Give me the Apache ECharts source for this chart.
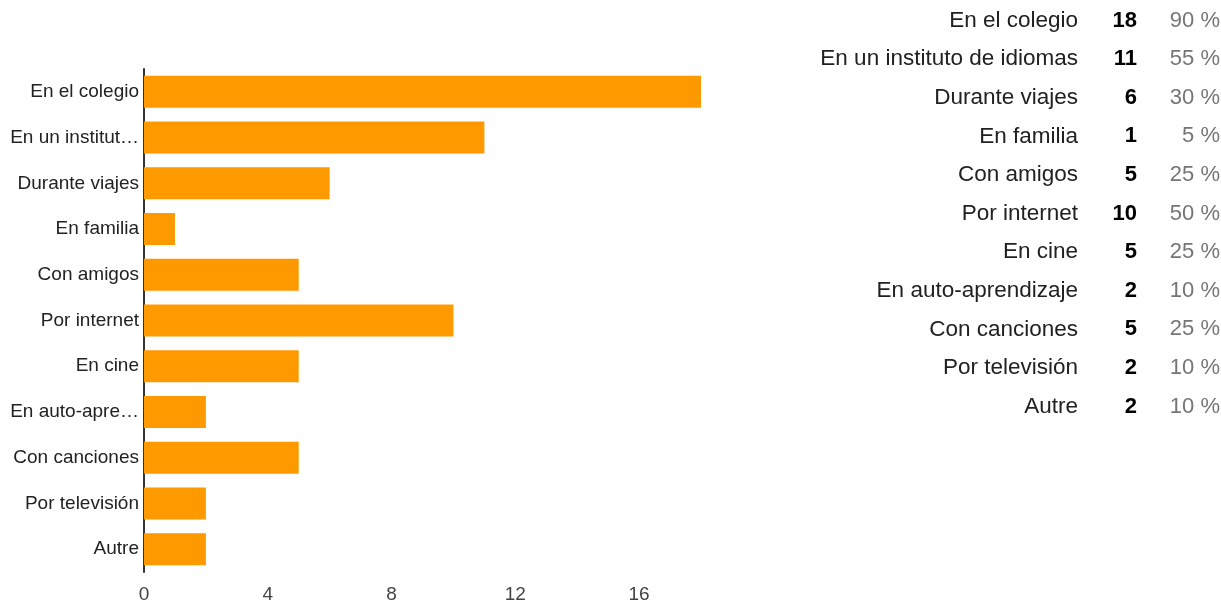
<!DOCTYPE html>
<html>
<head>
<meta charset="utf-8">
<script src="https://cdn.jsdelivr.net/npm/echarts@6/dist/echarts.min.js"></script>
<style>
html,body{margin:0;padding:0;background:#fff;}
#chart{width:1221px;height:604px;}
</style>
</head>
<body>
<div id="chart"></div>
<script>
var categories = ["En el colegio","En un instituto de idiomas","Durante viajes","En familia","Con amigos","Por internet","En cine","En auto-aprendizaje","Con canciones","Por televisión","Autre"];
var counts = [18, 11, 6, 1, 5, 10, 5, 2, 5, 2, 2];
var percents = ["90 %","55 %","30 %","5 %","25 %","50 %","25 %","10 %","25 %","10 %","10 %"];
var xTicks = [0, 4, 8, 12, 16];

var chart = echarts.init(document.getElementById('chart'));
var font = '"Liberation Sans", Arial, sans-serif';

var graphics = [];
categories.forEach(function(c, i){
  var y = 20.5 + i * 38.6;
  graphics.push({type:'text', x:1078, y:y, style:{text:c, font:'22.5px ' + font, fill:'#212121', textAlign:'right', textVerticalAlign:'middle'}});
  graphics.push({type:'text', x:1137, y:y, style:{text:String(counts[i]), font:'bold 22px ' + font, fill:'#000', textAlign:'right', textVerticalAlign:'middle'}});
  graphics.push({type:'text', x:1220, y:y, style:{text:percents[i], font:'22px ' + font, fill:'#757575', textAlign:'right', textVerticalAlign:'middle'}});
});

chart.setOption({
  animation:false,
  grid:{left:144, right:520, top:69, bottom:32, containLabel:false},
  xAxis:{type:'value', min:0, max:18, interval:4,
    axisLine:{show:false}, axisTick:{show:false}, splitLine:{show:false},
    axisLabel:{showMaxLabel:false, color:'#444', fontSize:19, fontFamily:font, margin:13,
      formatter:function(v){return xTicks.indexOf(v)>=0 ? String(v) : '';}}},
  yAxis:{type:'category', inverse:true, data:categories,
    axisLine:{show:true, lineStyle:{color:'#333', width:2}}, axisTick:{show:false},
    axisLabel:{color:'#222', fontSize:19, fontFamily:font, margin:5, width:135, overflow:'truncate', ellipsis:'…'}},
  series:[{type:'bar', data:counts, barWidth:32, itemStyle:{color:'#ff9900'}}],
  graphic: graphics
});
</script>
</body>
</html>
